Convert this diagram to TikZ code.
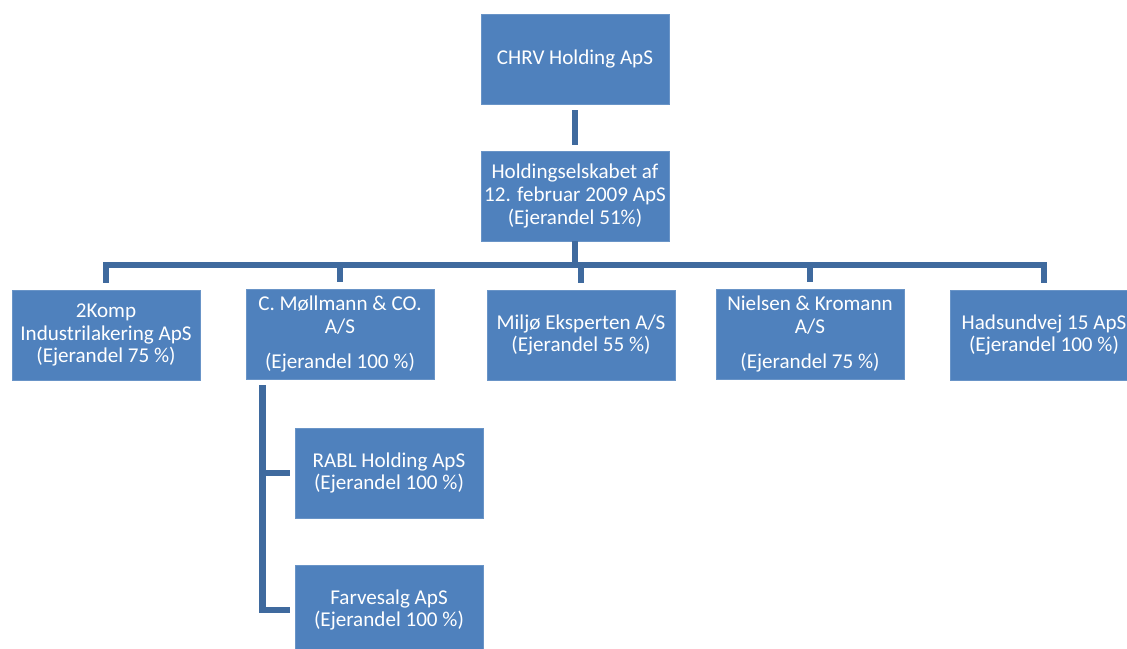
\documentclass[tikz,border=0pt]{standalone}
\usepackage{fontspec}
\setmainfont{Carlito}
\definecolor{boxblue}{HTML}{4F81BD}
\definecolor{lineblue}{HTML}{3F6A9E}
\tikzset{
  firm/.style={draw=boxblue!85!white, line width=0.4pt, fill=boxblue, text=white,
    minimum width=4.7cm, minimum height=2.25cm, inner sep=0pt, align=center,
    font=\fontsize{15}{16.3}\selectfont},
  conn/.style={lineblue, line width=4.6pt, line join=miter},
}
\begin{document}
\begin{tikzpicture}[x=0.025cm, y=-0.025cm]
\useasboundingbox (0,0) rectangle (1127,649);

% top of the group
\node[firm] (chrv) at (575,59) {CHRV Holding ApS};
\node[firm] (hold) at (575,196) {Holdingselskabet af\\12. februar 2009 ApS\\(Ejerandel 51\%)};

% subsidiaries
\node[firm] (komp) at (106,335) {2Komp\\Industrilakering ApS\\(Ejerandel 75 \%)};
\node[firm] (moell) at (340,334) {C. Møllmann \& CO.\\A/S\\[8pt](Ejerandel 100 \%)};
\node[firm] (milj) at (581,335) {Miljø Eksperten A/S\\(Ejerandel 55 \%)};
\node[firm] (niel) at (810,334) {Nielsen \& Kromann\\A/S\\[8pt](Ejerandel 75 \%)};
\node[firm] (hads) at (1044,335) {Hadsundvej 15 ApS\\(Ejerandel 100 \%)};

% under C. Møllmann
\node[firm] (rabl) at (389,473) {RABL Holding ApS\\(Ejerandel 100 \%)};
\node[firm] (farv) at (389,610) {Farvesalg ApS\\(Ejerandel 100 \%)};

\coordinate (bar) at (575,265);
\coordinate (mdrop) at ([xshift=0.425cm]moell.south west);

\draw[conn, shorten <=0.15cm, shorten >=0.15cm] (chrv) -- (hold);
\draw[conn] (hold) -- (bar);
\foreach \c in {komp,moell,milj,niel,hads}
  \draw[conn, shorten >=0.17cm] (bar) -| (\c);

\draw[conn, shorten <=0.15cm, shorten >=0.12cm] (mdrop) |- (rabl);
\draw[conn, shorten <=0.15cm, shorten >=0.12cm] (mdrop) |- (farv);

\end{tikzpicture}
\end{document}
